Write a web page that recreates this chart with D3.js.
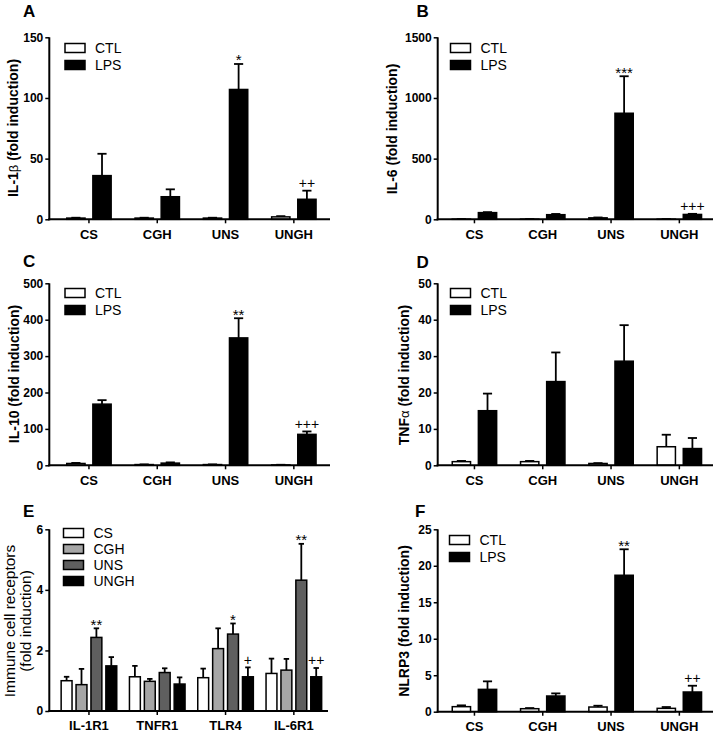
<!DOCTYPE html>
<html><head><meta charset="utf-8">
<script src="https://cdn.jsdelivr.net/npm/d3@7"></script>
<style>
body{margin:0;background:#fff;}
svg{display:block;font-family:Arial,"Liberation Sans",Helvetica,sans-serif;}
</style></head>
<body><svg id="c" width="717" height="734"></svg>
<script>
// ---------- data ----------
const categories = ["CS", "CGH", "UNS", "UNGH"];
const treatments = ["CTL", "LPS"];
const receptors = ["IL-1R1", "TNFR1", "TLR4", "IL-6R1"];
const diets = ["CS", "CGH", "UNS", "UNGH"];

// A: IL-1beta
const il1bCTL = [1.0, 1.0, 1.0, 2.0];
const il1bCTLerr = [0.3, 0.3, 0.3, 0.6];
const il1bLPS = [36, 18.6, 107, 16.5];
const il1bLPSerr = [18, 6.1, 21, 7.1];
const il1bMarks = ["", "", "*", "++"];
const il1bTicks = [0, 50, 100, 150];

// B: IL-6
const il6CTL = [1, 1, 12, 1];
const il6CTLerr = [0.5, 0.5, 3, 0.5];
const il6LPS = [55, 38, 874, 40];
const il6LPSerr = [4, 6, 305, 5];
const il6Marks = ["", "", "***", "+++"];
const il6Ticks = [0, 500, 1000, 1500];

// C: IL-10
const il10CTL = [5, 2, 2, 1];
const il10CTLerr = [1.5, 0.5, 0.5, 0.5];
const il10LPS = [168, 6, 350, 85];
const il10LPSerr = [11, 2, 54, 8];
const il10Marks = ["", "", "**", "+++"];
const il10Ticks = [0, 100, 200, 300, 400, 500];

// D: TNF-alpha
const tnfCTL = [1.0, 1.0, 0.5, 5.1];
const tnfCTLerr = [0.2, 0.2, 0.1, 3.3];
const tnfLPS = [15.0, 23.0, 28.6, 4.6];
const tnfLPSerr = [4.7, 8.0, 9.9, 2.9];
const tnfMarks = ["", "", "", ""];
const tnfTicks = [0, 10, 20, 30, 40, 50];

// E: immune cell receptors (per diet, across receptors)
const recCS = [1.0, 1.13, 1.10, 1.24];
const recCSerr = [0.13, 0.36, 0.30, 0.49];
const recCGH = [0.87, 0.98, 2.06, 1.35];
const recCGHerr = [0.52, 0.08, 0.67, 0.37];
const recUNS = [2.43, 1.27, 2.54, 4.32];
const recUNSerr = [0.30, 0.14, 0.35, 1.2];
const recUNGH = [1.49, 0.89, 1.13, 1.13];
const recUNGHerr = [0.29, 0.22, 0.31, 0.29];
const recUNSMarks = ["**", "", "*", "**"];
const recUNGHMarks = ["", "", "+", "++"];
const recTicks = [0, 2, 4, 6];

// F: NLRP3
const nlrp3CTL = [0.69, 0.41, 0.64, 0.46];
const nlrp3CTLerr = [0.18, 0.09, 0.18, 0.18];
const nlrp3LPS = [3.06, 2.15, 18.7, 2.7];
const nlrp3LPSerr = [1.1, 0.36, 3.56, 0.86];
const nlrp3Marks = ["", "", "**", "++"];
const nlrp3Ticks = [0, 5, 10, 15, 20, 25];

// ---------- drawing ----------
const svg = d3.select("#c");
const STEP = 68.3;

function panel(cfg) {
  const g = svg.append("g");
  const y = d3.scaleLinear().domain([cfg.ticks[0], cfg.ticks[cfg.ticks.length - 1]]).range([cfg.yBot, cfg.yTop]);
  const start = cfg.axisX + cfg.startOff;
  const x = d3.scaleBand().domain(cfg.cats).range([start, start + STEP * cfg.cats.length]).paddingInner(0).paddingOuter(0);
  const half = cfg.groupHalf;
  const sub = d3.scaleBand().domain(cfg.series.map(s => s.name)).range([-half, half]).paddingInner(cfg.subPad).paddingOuter(0);
  const bw = sub.bandwidth();

  cfg.series.forEach(s => {
    const gs = g.append("g");
    cfg.cats.forEach((c, i) => {
      const cx = x(c) + x.bandwidth() / 2 + sub(s.name);
      const v = s.values[i], e = s.err[i];
      const top = y(v + e);
      gs.append("line").attr("x1", cx + bw / 2).attr("x2", cx + bw / 2)
        .attr("y1", y(v)).attr("y2", top).attr("stroke", "#000").attr("stroke-width", 1.8);
      gs.append("line").attr("x1", cx + bw / 2 - bw * 0.25).attr("x2", cx + bw / 2 + bw * 0.25)
        .attr("y1", top).attr("y2", top).attr("stroke", "#000").attr("stroke-width", 1.8);
      gs.append("rect").attr("x", cx).attr("width", bw)
        .attr("y", y(v)).attr("height", Math.max(0, y(0) - y(v)))
        .attr("fill", s.color).attr("stroke", "#000").attr("stroke-width", 1.5);
      const m = s.marks ? s.marks[i] : "";
      if (m) {
        const isStar = m.indexOf("*") >= 0;
        gs.append("text").attr("x", cx + bw / 2).attr("y", top + (isStar ? 1.5 : -2.5))
          .attr("text-anchor", "middle").attr("font-size", isStar ? 15 : 14).attr("fill", "#000").text(m);
      }
    });
  });

  // y axis
  g.append("line").attr("x1", cfg.axisX).attr("x2", cfg.axisX).attr("y1", cfg.yTop).attr("y2", cfg.yBot + 1)
    .attr("stroke", "#000").attr("stroke-width", 2);
  const yAxis = d3.axisLeft(y).tickValues(cfg.ticks).tickSize(4).tickPadding(2).tickFormat(d3.format("d"));
  const ya = g.append("g").attr("transform", `translate(${cfg.axisX},0)`).call(yAxis);
  ya.select(".domain").remove();
  ya.selectAll(".tick line").attr("stroke-width", 1.5);
  ya.selectAll(".tick text").attr("font-size", 12).attr("font-weight", "bold")
    .attr("font-family", "Arial, 'Liberation Sans', sans-serif").attr("fill", "#000");

  // x axis
  g.append("line").attr("x1", cfg.axisX - 1).attr("x2", cfg.xEnd).attr("y1", cfg.yBot).attr("y2", cfg.yBot)
    .attr("stroke", "#000").attr("stroke-width", 2);
  const xAxis = d3.axisBottom(x).tickSize(4).tickPadding(6);
  const xa = g.append("g").attr("transform", `translate(0,${cfg.yBot})`).call(xAxis);
  xa.select(".domain").remove();
  xa.selectAll(".tick line").attr("stroke-width", 1.5);
  xa.selectAll(".tick text").attr("font-size", 13).attr("font-weight", "bold")
    .attr("font-family", "Arial, 'Liberation Sans', sans-serif").attr("fill", "#000");

  // title letter
  g.append("text").attr("x", cfg.titleX).attr("y", cfg.titleY).attr("font-size", 17).attr("font-weight", "bold").text(cfg.title);

  // y label
  const yl = g.append("text").attr("transform", `translate(${cfg.ylabX},${cfg.ylabY}) rotate(-90)`)
    .attr("text-anchor", "middle").attr("dominant-baseline", "central").attr("fill", "#000");
  if (cfg.ylabLines) {
    cfg.ylabLines.forEach((t, k) => {
      yl.append("tspan").attr("x", 0).attr("dy", k === 0 ? -8 : 16).attr("font-size", 15.5).text(t);
    });
  } else {
    yl.attr("font-size", 14).attr("font-weight", "bold");
    cfg.ylab.forEach(p => {
      const ts = yl.append("tspan").text(p.t);
      if (p.greek) ts.attr("font-weight", "normal").attr("font-size", 13);
    });
  }

  // legend
  cfg.series.forEach((s, k) => {
    const ly = cfg.legY + k * cfg.legStep;
    g.append("rect").attr("x", cfg.legX).attr("y", ly).attr("width", 20).attr("height", 9)
      .attr("fill", s.color).attr("stroke", "#000").attr("stroke-width", 1.5);
    g.append("text").attr("x", cfg.legX + 30).attr("y", ly + 9.5).attr("font-size", 14).attr("fill", "#000").text(s.name);
  });
}

function twoSeries(ctl, ctlErr, lps, lpsErr, marks) {
  return [
    { name: treatments[0], color: "#ffffff", values: ctl, err: ctlErr, marks: null },
    { name: treatments[1], color: "#000000", values: lps, err: lpsErr, marks: marks }
  ];
}

const L = { axisX: 49.3, startOff: 5.5, xEnd: 330, titleX: 23, ylabX: 13, legX: 65, groupHalf: 22.2, subPad: 0.3, legStep: 17, cats: categories };
const R = { axisX: 437.7, startOff: 2.6, xEnd: 713, titleX: 416.5, ylabX: 391.5, legX: 450.5, groupHalf: 22.2, subPad: 0.3, legStep: 17, cats: categories };

panel(Object.assign({}, L, { yTop: 37.3, yBot: 219.3, ticks: il1bTicks, title: "A", titleY: 17, ylabY: 128, legY: 43.5,
  ylab: [{ t: "IL-1" }, { t: "β" , greek: true}, { t: " (fold induction)" }],
  series: twoSeries(il1bCTL, il1bCTLerr, il1bLPS, il1bLPSerr, il1bMarks) }));

panel(Object.assign({}, R, { yTop: 37.3, yBot: 219.3, ticks: il6Ticks, title: "B", titleY: 17, ylabY: 129, legY: 43.5,
  ylab: [{ t: "IL-6 (fold induction)" }],
  series: twoSeries(il6CTL, il6CTLerr, il6LPS, il6LPSerr, il6Marks) }));

panel(Object.assign({}, L, { yTop: 283.3, yBot: 465.3, ticks: il10Ticks, title: "C", titleY: 267, ylabX: 14, ylabY: 374, legY: 288.5,
  ylab: [{ t: "IL-10 (fold induction)" }],
  series: twoSeries(il10CTL, il10CTLerr, il10LPS, il10LPSerr, il10Marks) }));

panel(Object.assign({}, R, { yTop: 283.3, yBot: 465.3, ticks: tnfTicks, title: "D", titleY: 268, ylabX: 403.5, ylabY: 375, legY: 288.5,
  ylab: [{ t: "TNF" }, { t: "α", greek: true }, { t: " (fold induction)" }],
  series: twoSeries(tnfCTL, tnfCTLerr, tnfLPS, tnfLPSerr, tnfMarks) }));

panel(Object.assign({}, L, { yTop: 529.3, yBot: 711, ticks: recTicks, title: "E", titleY: 517, ylabX: 17, ylabY: 621, legY: 528.5,
  legX: 63.5, legStep: 16, cats: receptors, groupHalf: 27.8, subPad: 0.27, xEnd: 328,
  ylabLines: ["Immune cell receptors", "(fold induction)"],
  series: [
    { name: diets[0], color: "#ffffff", values: recCS, err: recCSerr, marks: null },
    { name: diets[1], color: "#a6a6a6", values: recCGH, err: recCGHerr, marks: null },
    { name: diets[2], color: "#5f5f5f", values: recUNS, err: recUNSerr, marks: recUNSMarks },
    { name: diets[3], color: "#000000", values: recUNGH, err: recUNGHerr, marks: recUNGHMarks }
  ] }));

panel(Object.assign({}, R, { yTop: 529.3, yBot: 711.7, ticks: nlrp3Ticks, title: "F", titleX: 415, titleY: 517, ylabX: 404, ylabY: 621, legY: 535.5, legX: 449.5,
  ylab: [{ t: "NLRP3 (fold induction)" }],
  series: twoSeries(nlrp3CTL, nlrp3CTLerr, nlrp3LPS, nlrp3LPSerr, nlrp3Marks) }));
</script>
</body></html>
